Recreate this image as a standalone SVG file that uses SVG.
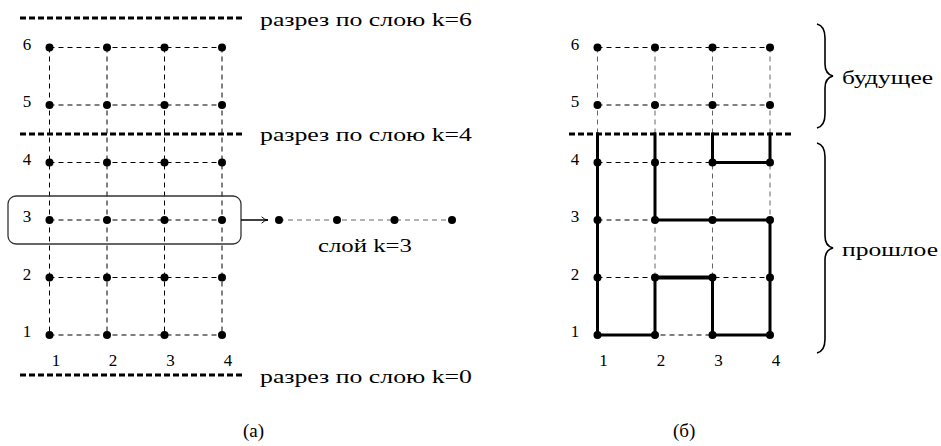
<svg xmlns="http://www.w3.org/2000/svg" xmlns:xlink="http://www.w3.org/1999/xlink" width="941" height="446" viewBox="0 0 941 446">
<style>
text{font-family:"Liberation Serif","DejaVu Serif",serif;fill:#000}
.lbl{font-size:17px;text-anchor:middle}
.cap{font-size:19px}
.gh{stroke:#000;stroke-width:1;stroke-dasharray:5 4;fill:none}
.gv{stroke:#000;stroke-width:1;stroke-dasharray:5 4;fill:none}
.gvg{stroke:#666;stroke-width:1;stroke-dasharray:5 4;fill:none}
.cut{stroke:#000;stroke-width:3;stroke-dasharray:6 3;fill:none}
.thick{stroke:#000;stroke-width:3;fill:none;stroke-linecap:square}
.brace{stroke:#000;stroke-width:1.6;fill:none}
</style>
<defs>
<circle id="dot" r="4" fill="#000"/>
<marker id="arr" viewBox="0 0 10 10" refX="9" refY="5" markerWidth="8" markerHeight="8" markerUnits="userSpaceOnUse" orient="auto">
<path d="M1,1 Q5,5 9,5 Q5,5 1,9" fill="none" stroke="#000" stroke-width="1.2"/>
</marker>
</defs>

<g id="connectors">
<path class="gh" d="M49.5,47.5H222M49.5,105H222M49.5,162.5H222M49.5,220H222M49.5,277.5H222M49.5,335H222"/>
<path class="gv" d="M49.5,47.5V335M107,47.5V335M164.5,47.5V335M222,47.5V335"/>
<path class="cut" d="M20,18H245M20,134H245M20,375H245"/>
<rect x="8" y="196" width="233" height="48" rx="8" fill="none" stroke="#333" stroke-width="1.3"/>
<path d="M241,220H268" stroke="#000" stroke-width="1.5" marker-end="url(#arr)"/>
<path d="M279,220H452" stroke="#666" stroke-width="1" stroke-dasharray="5 4"/>
<path class="gh" d="M597.5,47.5H770M597.5,105H770M597.5,162.5H770M597.5,220H770M597.5,277.5H770M597.5,335H770"/>
<path class="gvg" d="M597.5,47.5V335M655,47.5V335M712.5,47.5V335M770,47.5V335"/>
<path class="cut" d="M569,134H794"/>
<path class="thick" d="M597.5,134V335H655M655,134V220H770V335H712.5V277.5M655,277.5V335M712.5,134V162.5H770V134"/>
<path d="M655,277.5H712.5" stroke="#000" stroke-width="4" fill="none"/>
<path class="brace" d="M817,24Q825,26 825,38V64Q825,74 833,76Q825,78 825,88V114Q825,126 817,128"/>
<path class="brace" d="M817,143Q825,145 825,157V236Q825,246 833,248Q825,250 825,260V339Q825,351 817,353"/>
</g>

<g id="texts">
<text class="cap" x="260" y="26" textLength="212" lengthAdjust="spacingAndGlyphs">разрез по слою k=6</text>
<text class="cap" x="260" y="141" textLength="212" lengthAdjust="spacingAndGlyphs">разрез по слою k=4</text>
<text class="cap" x="260" y="383" textLength="212" lengthAdjust="spacingAndGlyphs">разрез по слою k=0</text>
<text class="cap" x="318" y="252" textLength="94" lengthAdjust="spacingAndGlyphs">слой k=3</text>
<text class="cap" x="842" y="84" textLength="91" lengthAdjust="spacingAndGlyphs">будущее</text>
<text class="cap" x="842" y="256" textLength="96" lengthAdjust="spacingAndGlyphs">прошлое</text>
<text class="cap" x="243" y="437">(а)</text>
<text class="cap" x="673" y="437">(б)</text>
<text class="lbl" x="27" y="49.5">6</text><text class="lbl" x="27" y="107">5</text><text class="lbl" x="27" y="164.5">4</text>
<text class="lbl" x="27" y="222">3</text><text class="lbl" x="27" y="279.5">2</text><text class="lbl" x="27" y="337">1</text>
<text class="lbl" x="56" y="366">1</text><text class="lbl" x="113" y="366">2</text><text class="lbl" x="170.5" y="366">3</text><text class="lbl" x="228" y="366">4</text>
<text class="lbl" x="575" y="49.5">6</text><text class="lbl" x="575" y="107">5</text><text class="lbl" x="575" y="164.5">4</text>
<text class="lbl" x="575" y="222">3</text><text class="lbl" x="575" y="279.5">2</text><text class="lbl" x="575" y="337">1</text>
<text class="lbl" x="603.5" y="366">1</text><text class="lbl" x="661" y="366">2</text><text class="lbl" x="718.5" y="366">3</text><text class="lbl" x="776" y="366">4</text>
</g>

<g id="nodes-a">
<g id="a-6-1"><use xlink:href="#dot" x="49.5" y="47.5"/></g><g id="a-6-2"><use xlink:href="#dot" x="107" y="47.5"/></g><g id="a-6-3"><use xlink:href="#dot" x="164.5" y="47.5"/></g><g id="a-6-4"><use xlink:href="#dot" x="222" y="47.5"/></g>
<g id="a-5-1"><use xlink:href="#dot" x="49.5" y="105"/></g><g id="a-5-2"><use xlink:href="#dot" x="107" y="105"/></g><g id="a-5-3"><use xlink:href="#dot" x="164.5" y="105"/></g><g id="a-5-4"><use xlink:href="#dot" x="222" y="105"/></g>
<g id="a-4-1"><use xlink:href="#dot" x="49.5" y="162.5"/></g><g id="a-4-2"><use xlink:href="#dot" x="107" y="162.5"/></g><g id="a-4-3"><use xlink:href="#dot" x="164.5" y="162.5"/></g><g id="a-4-4"><use xlink:href="#dot" x="222" y="162.5"/></g>
<g id="a-3-1"><use xlink:href="#dot" x="49.5" y="220"/></g><g id="a-3-2"><use xlink:href="#dot" x="107" y="220"/></g><g id="a-3-3"><use xlink:href="#dot" x="164.5" y="220"/></g><g id="a-3-4"><use xlink:href="#dot" x="222" y="220"/></g>
<g id="a-2-1"><use xlink:href="#dot" x="49.5" y="277.5"/></g><g id="a-2-2"><use xlink:href="#dot" x="107" y="277.5"/></g><g id="a-2-3"><use xlink:href="#dot" x="164.5" y="277.5"/></g><g id="a-2-4"><use xlink:href="#dot" x="222" y="277.5"/></g>
<g id="a-1-1"><use xlink:href="#dot" x="49.5" y="335"/></g><g id="a-1-2"><use xlink:href="#dot" x="107" y="335"/></g><g id="a-1-3"><use xlink:href="#dot" x="164.5" y="335"/></g><g id="a-1-4"><use xlink:href="#dot" x="222" y="335"/></g>
</g>
<g id="nodes-layer">
<g id="l-1"><use xlink:href="#dot" x="279" y="220"/></g><g id="l-2"><use xlink:href="#dot" x="337" y="220"/></g><g id="l-3"><use xlink:href="#dot" x="394.5" y="220"/></g><g id="l-4"><use xlink:href="#dot" x="452" y="220"/></g>
</g>
<g id="nodes-b">
<g id="b-6-1"><use xlink:href="#dot" x="597.5" y="47.5"/></g><g id="b-6-2"><use xlink:href="#dot" x="655" y="47.5"/></g><g id="b-6-3"><use xlink:href="#dot" x="712.5" y="47.5"/></g><g id="b-6-4"><use xlink:href="#dot" x="770" y="47.5"/></g>
<g id="b-5-1"><use xlink:href="#dot" x="597.5" y="105"/></g><g id="b-5-2"><use xlink:href="#dot" x="655" y="105"/></g><g id="b-5-3"><use xlink:href="#dot" x="712.5" y="105"/></g><g id="b-5-4"><use xlink:href="#dot" x="770" y="105"/></g>
<g id="b-4-1"><use xlink:href="#dot" x="597.5" y="162.5"/></g><g id="b-4-2"><use xlink:href="#dot" x="655" y="162.5"/></g><g id="b-4-3"><use xlink:href="#dot" x="712.5" y="162.5"/></g><g id="b-4-4"><use xlink:href="#dot" x="770" y="162.5"/></g>
<g id="b-3-1"><use xlink:href="#dot" x="597.5" y="220"/></g><g id="b-3-2"><use xlink:href="#dot" x="655" y="220"/></g><g id="b-3-3"><use xlink:href="#dot" x="712.5" y="220"/></g><g id="b-3-4"><use xlink:href="#dot" x="770" y="220"/></g>
<g id="b-2-1"><use xlink:href="#dot" x="597.5" y="277.5"/></g><g id="b-2-2"><use xlink:href="#dot" x="655" y="277.5"/></g><g id="b-2-3"><use xlink:href="#dot" x="712.5" y="277.5"/></g><g id="b-2-4"><use xlink:href="#dot" x="770" y="277.5"/></g>
<g id="b-1-1"><use xlink:href="#dot" x="597.5" y="335"/></g><g id="b-1-2"><use xlink:href="#dot" x="655" y="335"/></g><g id="b-1-3"><use xlink:href="#dot" x="712.5" y="335"/></g><g id="b-1-4"><use xlink:href="#dot" x="770" y="335"/></g>
</g>
</svg>
